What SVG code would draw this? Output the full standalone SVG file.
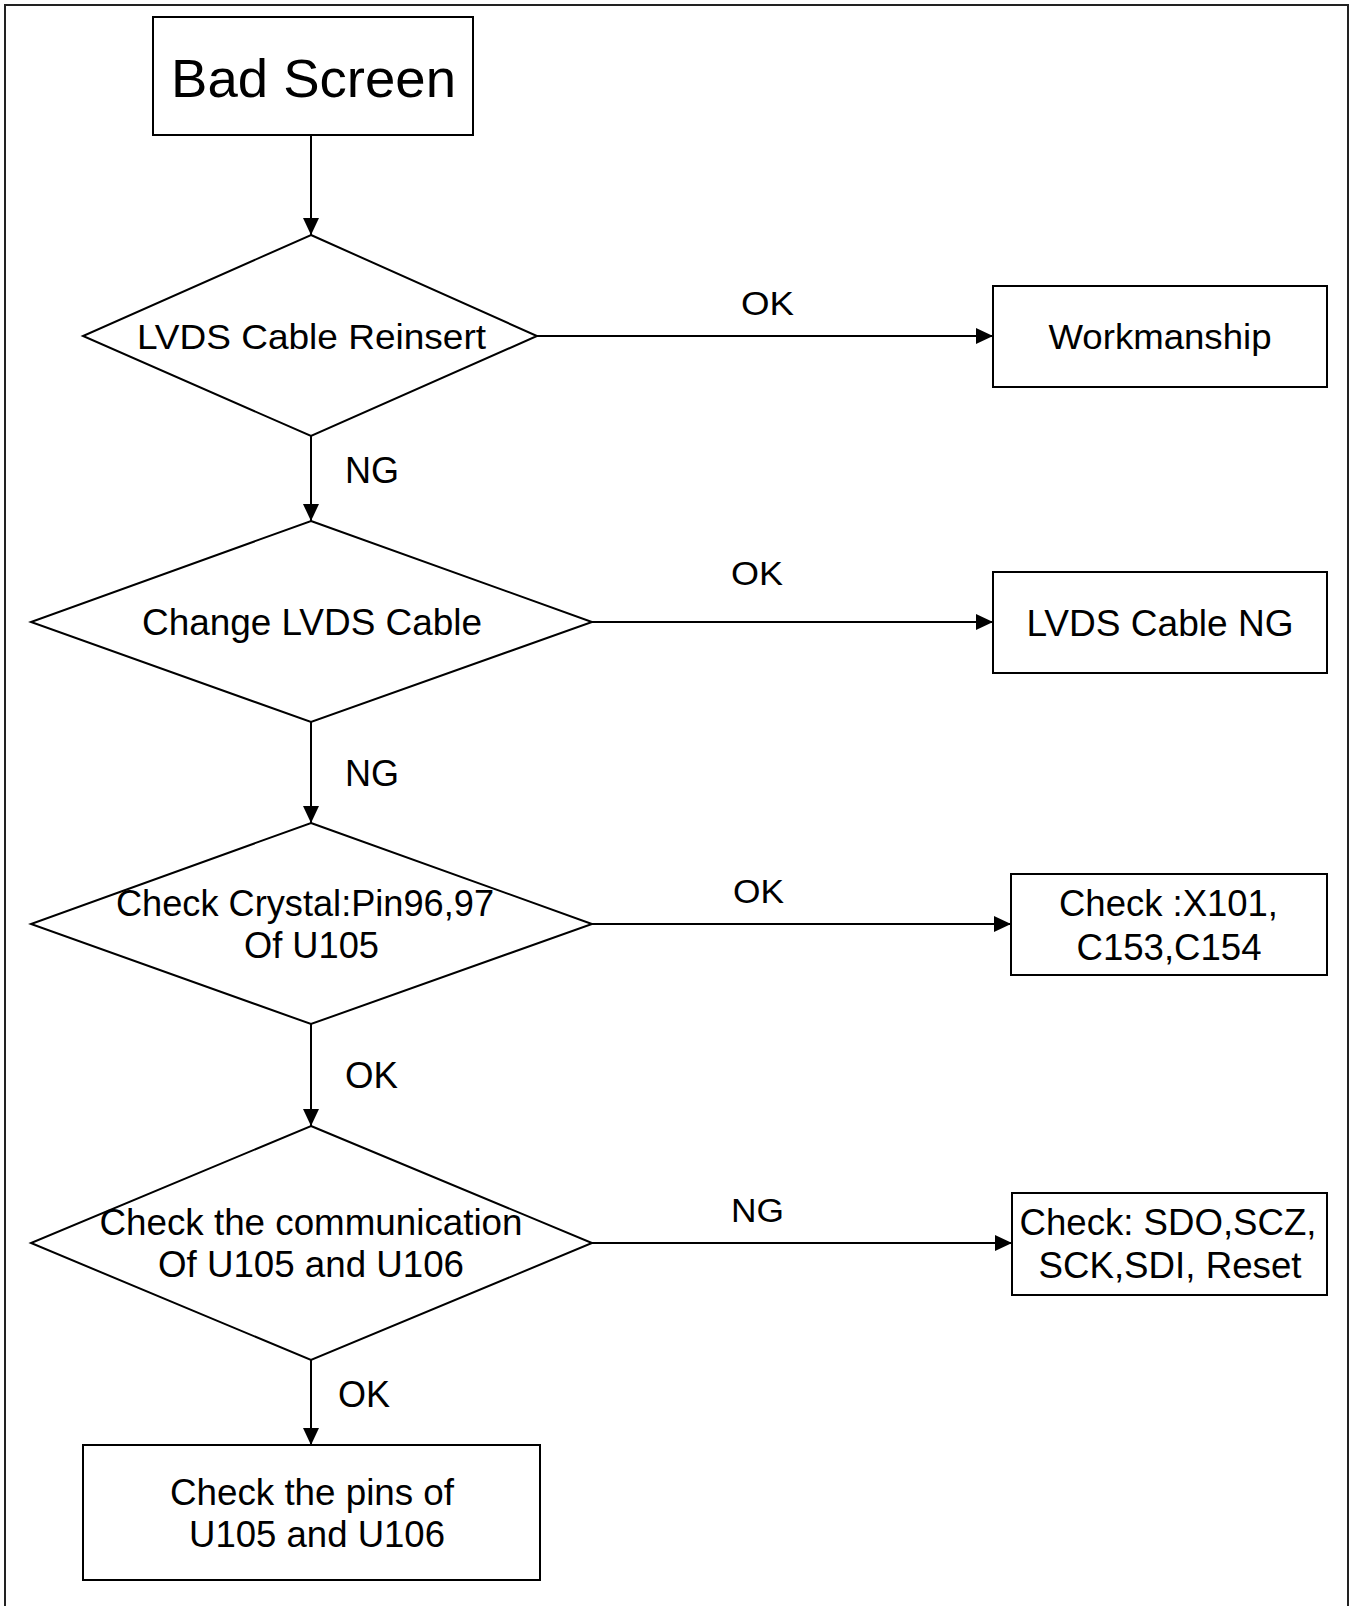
<svg xmlns="http://www.w3.org/2000/svg" width="1356" height="1606" viewBox="0 0 1356 1606">
<style>
  .shape { fill: #ffffff; stroke: #000000; stroke-width: 2; }
  .conn { fill: none; stroke: #000000; stroke-width: 2; }
  .frame { fill: none; stroke: #222222; stroke-width: 2; }
  text { font-family: "Liberation Sans", Arial, sans-serif; fill: #000000; }
  .t { font-size: 36px; text-anchor: middle; }
  .lbl { font-size: 36px; }
  .hl { font-size: 33px; }
</style>
<defs>
  <marker id="arrow" markerUnits="userSpaceOnUse" markerWidth="17" markerHeight="16" refX="17" refY="8" orient="auto">
    <path d="M0,0 L17,8 L0,16 Z" fill="#000000"/>
  </marker>
</defs>
<rect x="0" y="0" width="1356" height="1606" fill="#ffffff"/>
<path class="frame" d="M5,1610 V5 H1348 V1610"/>

<g id="connectors">
  <line class="conn" x1="311" y1="135" x2="311" y2="235" marker-end="url(#arrow)"/>
  <line class="conn" x1="311" y1="436" x2="311" y2="521" marker-end="url(#arrow)"/>
  <line class="conn" x1="311" y1="722" x2="311" y2="823" marker-end="url(#arrow)"/>
  <line class="conn" x1="311" y1="1024" x2="311" y2="1126" marker-end="url(#arrow)"/>
  <line class="conn" x1="311" y1="1360" x2="311" y2="1445" marker-end="url(#arrow)"/>
  <line class="conn" x1="537" y1="336" x2="993" y2="336" marker-end="url(#arrow)"/>
  <line class="conn" x1="592" y1="622" x2="993" y2="622" marker-end="url(#arrow)"/>
  <line class="conn" x1="592" y1="924" x2="1011" y2="924" marker-end="url(#arrow)"/>
  <line class="conn" x1="592" y1="1243" x2="1012" y2="1243" marker-end="url(#arrow)"/>
  <text class="lbl" x="345" y="483" textLength="54" lengthAdjust="spacingAndGlyphs">NG</text>
  <text class="lbl" x="345" y="786" textLength="54" lengthAdjust="spacingAndGlyphs">NG</text>
  <text class="lbl" x="345" y="1088" textLength="53" lengthAdjust="spacingAndGlyphs">OK</text>
  <text class="lbl" x="338" y="1407" textLength="52" lengthAdjust="spacingAndGlyphs">OK</text>
  <text class="hl" x="741" y="315" textLength="53" lengthAdjust="spacingAndGlyphs">OK</text>
  <text class="hl" x="731" y="585" textLength="52" lengthAdjust="spacingAndGlyphs">OK</text>
  <text class="hl" x="733" y="903" textLength="51" lengthAdjust="spacingAndGlyphs">OK</text>
  <text class="hl" x="731" y="1222" textLength="53" lengthAdjust="spacingAndGlyphs">NG</text>
</g>

<g id="bad-screen">
  <rect class="shape" x="153" y="17" width="320" height="118"/>
  <text x="313.5" y="97" font-size="54" text-anchor="middle" textLength="285" lengthAdjust="spacingAndGlyphs">Bad Screen</text>
</g>

<g id="lvds-reinsert">
  <polygon class="shape" points="311,235 537,336 311,436 83,336"/>
  <text x="311.5" y="349" font-size="35" text-anchor="middle" textLength="349" lengthAdjust="spacingAndGlyphs">LVDS Cable Reinsert</text>
</g>

<g id="workmanship">
  <rect class="shape" x="993" y="286" width="334" height="101"/>
  <text x="1160" y="349" font-size="35" text-anchor="middle" textLength="223" lengthAdjust="spacingAndGlyphs">Workmanship</text>
</g>

<g id="change-lvds">
  <polygon class="shape" points="311,521 592,622 311,722 31,622"/>
  <text class="t" x="312" y="635" textLength="340" lengthAdjust="spacingAndGlyphs">Change LVDS Cable</text>
</g>

<g id="lvds-cable-ng">
  <rect class="shape" x="993" y="572" width="334" height="101"/>
  <text class="t" x="1160" y="636" textLength="267" lengthAdjust="spacingAndGlyphs">LVDS Cable NG</text>
</g>

<g id="check-crystal">
  <polygon class="shape" points="311,823 592,924 311,1024 31,924"/>
  <text class="t" x="305" y="916" textLength="378" lengthAdjust="spacingAndGlyphs">Check Crystal:Pin96,97</text>
  <text class="t" x="311.5" y="958" textLength="135" lengthAdjust="spacingAndGlyphs">Of U105</text>
</g>

<g id="check-x101">
  <rect class="shape" x="1011" y="874" width="316" height="101"/>
  <text class="t" x="1168.5" y="916" textLength="219" lengthAdjust="spacingAndGlyphs">Check :X101,</text>
  <text class="t" x="1169" y="960" textLength="185" lengthAdjust="spacingAndGlyphs">C153,C154</text>
</g>

<g id="check-communication">
  <polygon class="shape" points="311,1126 592,1243 311,1360 31,1243"/>
  <text class="t" x="311" y="1235" textLength="423" lengthAdjust="spacingAndGlyphs">Check the communication</text>
  <text class="t" x="311" y="1277" textLength="306" lengthAdjust="spacingAndGlyphs">Of U105 and U106</text>
</g>

<g id="check-sdo">
  <rect class="shape" x="1012" y="1193" width="315" height="102"/>
  <text class="t" x="1168" y="1235" textLength="297" lengthAdjust="spacingAndGlyphs">Check: SDO,SCZ,</text>
  <text class="t" x="1170" y="1278" textLength="263" lengthAdjust="spacingAndGlyphs">SCK,SDI, Reset</text>
</g>

<g id="check-pins">
  <rect class="shape" x="83" y="1445" width="457" height="135"/>
  <text class="t" x="312" y="1505" textLength="284" lengthAdjust="spacingAndGlyphs">Check the pins of</text>
  <text class="t" x="317" y="1547" textLength="256" lengthAdjust="spacingAndGlyphs">U105 and U106</text>
</g>
</svg>
